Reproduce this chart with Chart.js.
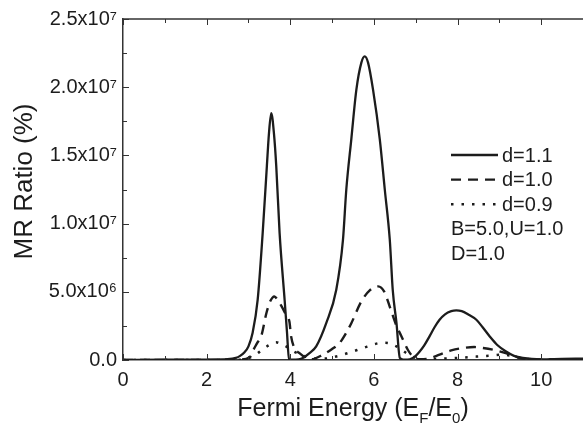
<!DOCTYPE html>
<html>
<head>
<meta charset="utf-8">
<script src="https://cdn.jsdelivr.net/npm/chart.js@4.4.0/dist/chart.umd.min.js"></script>
<style>
html, body { margin: 0; padding: 0; background: #fff; }
#wrap { width: 583px; height: 428px; position: relative; }
</style>
</head>
<body>
<div id="wrap"><canvas id="chart"></canvas></div>
<script>
// MR ratio values are in units of 10^6 %
var d11X = [0, 1.0, 2.0, 2.5, 2.7, 2.8, 2.9, 3.0, 3.1, 3.22, 3.34, 3.44, 3.49, 3.545, 3.61, 3.665, 3.745, 3.865, 3.92, 3.97, 4.05, 4.2, 4.3, 4.46, 4.62, 4.86, 5.1, 5.26, 5.34, 5.46, 5.58, 5.7, 5.78, 5.86, 5.98, 6.14, 6.26, 6.38, 6.45, 6.54, 6.62, 6.7, 6.8, 6.93, 7.0, 7.09, 7.2, 7.33, 7.45, 7.57, 7.7, 7.85, 7.97, 8.1, 8.25, 8.45, 8.6, 8.77, 8.95, 9.17, 9.35, 9.56, 10.0, 10.5, 11.0];
var d11Y = [0, 0.02, 0.03, 0.06, 0.15, 0.3, 0.55, 1.0, 2.0, 4.4, 9.3, 14.2, 16.6, 18.1, 16.6, 14.2, 9.3, 4.4, 2.1, 0.05, 0.02, 0.05, 0.15, 0.5, 1.0, 2.7, 5.15, 8.8, 12.5, 16.2, 19.8, 21.8, 22.26, 21.8, 19.8, 16.2, 12.5, 8.8, 5.15, 2.7, 0.15, 0.03, 0.03, 0.15, 0.3, 0.6, 1.05, 1.73, 2.4, 2.95, 3.35, 3.58, 3.64, 3.58, 3.35, 2.95, 2.4, 1.73, 1.1, 0.6, 0.3, 0.15, 0.05, 0.08, 0.1];

var d10X = [0, 2.0, 2.8, 3.03, 3.11, 3.2, 3.31, 3.43, 3.52, 3.62, 3.7, 3.78, 3.9, 3.98, 4.02, 4.1, 4.22, 4.38, 4.5, 4.78, 5.0, 5.18, 5.32, 5.46, 5.7, 5.9, 6.1, 6.25, 6.38, 6.54, 6.66, 6.81, 6.93, 7.1, 7.3, 7.57, 7.85, 8.13, 8.4, 8.61, 8.85, 9.09, 9.3, 9.49, 10.0, 11.0];
var d10Y = [0, 0.01, 0.03, 0.2, 0.7, 1.2, 1.8, 3.45, 4.3, 4.66, 4.4, 4.0, 3.3, 2.8, 1.73, 0.88, 0.5, 0.15, 0.05, 0.39, 0.8, 1.25, 1.9, 2.7, 4.3, 5.1, 5.4, 5.0, 3.9, 2.5, 1.73, 0.75, 0.26, 0.05, 0.1, 0.39, 0.7, 0.88, 0.95, 0.88, 0.75, 0.56, 0.35, 0.15, 0.03, 0.05];

var d09X = [0, 2.5, 2.9, 3.03, 3.2, 3.35, 3.5, 3.66, 3.8, 3.98, 4.1, 4.26, 4.5, 4.8, 5.1, 5.38, 5.74, 6.06, 6.2, 6.34, 6.5, 6.61, 6.78, 7.0, 7.25, 7.6, 7.97, 8.45, 8.8, 9.09, 9.3, 9.6, 10.0, 11.0];
var d09Y = [0, 0, 0.05, 0.17, 0.45, 0.8, 1.1, 1.3, 1.15, 0.85, 0.6, 0.39, 0.12, 0.1, 0.26, 0.51, 0.88, 1.2, 1.27, 1.25, 1.05, 0.88, 0.5, 0.15, 0.05, 0.1, 0.15, 0.25, 0.32, 0.39, 0.3, 0.1, 0.02, 0.05];

var seriesNames = ['d=1.1', 'd=1.0', 'd=0.9'];
var xTickValues = [0, 2, 4, 6, 8, 10];
var yTickLabels = ['0.0', '5.0x10\u2076', '1.0x10\u2077', '1.5x10\u2077', '2.0x10\u2077', '2.5x10\u2077'];
var noteLines = ['B=5.0,U=1.0', 'D=1.0'];

var ink = '#1c1c1c';
var axisInk = '#333';
var fontFam = "'Liberation Sans', Arial, sans-serif";
Chart.defaults.font.family = fontFam;

function pts(xs, ys) {
    return xs.map(function (x, i) { return { x: x, y: ys[i] }; });
}

var framePlugin = {
    id: 'frame',
    afterDraw: function (chart) {
        var ctx = chart.ctx, a = chart.chartArea;
        var xs = chart.scales.x, ys = chart.scales.y;
        ctx.save();
        ctx.strokeStyle = axisInk;
        ctx.lineWidth = 1.5;
        ctx.beginPath();
        ctx.moveTo(a.left, a.top);
        ctx.lineTo(a.right, a.top);
        ctx.stroke();
        // inward ticks, bottom and top
        ctx.lineWidth = 1;
        for (var v = 0; v <= 11; v++) {
            var px = Math.round(xs.getPixelForValue(v)) + 0.5;
            var len = v % 2 === 0 ? 6 : 4;
            ctx.beginPath();
            ctx.moveTo(px, a.bottom); ctx.lineTo(px, a.bottom - len);
            ctx.moveTo(px, a.top); ctx.lineTo(px, a.top + len);
            ctx.stroke();
        }
        for (var w = 0; w <= 25; w += 2.5) {
            var py = Math.round(ys.getPixelForValue(w)) + 0.5;
            var l2 = w % 5 === 0 ? 6 : 4;
            ctx.beginPath();
            ctx.moveTo(a.left, py); ctx.lineTo(a.left + l2, py);
            ctx.stroke();
        }

        // legend inside the plot
        ctx.fillStyle = ink;
        ctx.font = '20px ' + fontFam;
        ctx.textBaseline = 'middle';
        ctx.textAlign = 'left';
        var lx = 451, ly = 155, gap = 24.6;
        chart.data.datasets.forEach(function (ds, i) {
            var y = ly + i * gap;
            ctx.save();
            ctx.strokeStyle = ds.borderColor;
            ctx.lineWidth = ds.borderWidth;
            ctx.setLineDash(ds.borderDash || []);
            ctx.beginPath();
            ctx.moveTo(lx, y); ctx.lineTo(lx + 47, y);
            ctx.stroke();
            ctx.restore();
            ctx.fillText(ds.label, lx + 51, y + 1);
        });
        noteLines.forEach(function (t, i) {
            ctx.fillText(t, lx, ly + (3 + i) * gap + 1);
        });

        // y axis title
        ctx.save();
        ctx.translate(32, 181.5);
        ctx.rotate(-Math.PI / 2);
        ctx.font = '26px ' + fontFam;
        ctx.textAlign = 'center';
        ctx.textBaseline = 'alphabetic';
        ctx.fillText('MR Ratio (%)', 0, 0);
        ctx.restore();

        // x axis title with subscripts
        var big = '25px ' + fontFam, small = '15px ' + fontFam;
        var parts = [['Fermi Energy (E', big, 0], ['F', small, 7], ['/E', big, 0], ['0', small, 7], [')', big, 0]];
        var total = 0;
        parts.forEach(function (p) { ctx.font = p[1]; total += ctx.measureText(p[0]).width; });
        var cx = (a.left + a.right) / 2 - total / 2;
        var base = 416;
        ctx.textAlign = 'left';
        ctx.textBaseline = 'alphabetic';
        parts.forEach(function (p) {
            ctx.font = p[1];
            ctx.fillText(p[0], cx, base + p[2]);
            cx += ctx.measureText(p[0]).width;
        });
        ctx.restore();
    }
};

new Chart(document.getElementById('chart'), {
    type: 'line',
    data: {
        datasets: [{
            label: seriesNames[0],
            data: pts(d11X, d11Y),
            borderColor: ink,
            borderWidth: 2.3,
        }, {
            label: seriesNames[1],
            data: pts(d10X, d10Y),
            borderColor: ink,
            borderWidth: 2.4,
            borderDash: [10, 7],
        }, {
            label: seriesNames[2],
            data: pts(d09X, d09Y),
            borderColor: ink,
            borderWidth: 2.5,
            borderDash: [2.5, 8],
        }]
    },
    options: {
        responsive: true,
        maintainAspectRatio: false,
        animation: false,
        layout: { padding: { top: 19, right: 0, left: 0, bottom: 0 } },
        elements: {
            point: { radius: 0 },
            line: { cubicInterpolationMode: 'monotone', fill: false }
        },
        plugins: {
            legend: { display: false },
            tooltip: { enabled: false }
        },
        scales: {
            x: {
                type: 'linear',
                min: 0,
                max: 11,
                grid: { display: false, drawTicks: false },
                border: { display: true, color: axisInk, width: 1.5 },
                ticks: { color: ink, font: { size: 20 }, padding: 8, maxRotation: 0 },
                afterBuildTicks: function (s) {
                    s.ticks = xTickValues.map(function (v) { return { value: v }; });
                },
                afterFit: function (s) { s.height = 68; }
            },
            y: {
                min: 0,
                max: 25,
                grid: { display: false, drawTicks: false },
                border: { display: true, color: axisInk, width: 1.5 },
                ticks: {
                    stepSize: 5,
                    color: ink,
                    font: { size: 20 },
                    padding: 6,
                    callback: function (v) { return yTickLabels[Math.round(v / 5)]; }
                },
                afterFit: function (s) { s.width = 123; }
            }
        }
    },
    plugins: [framePlugin]
});
</script>
</body>
</html>
